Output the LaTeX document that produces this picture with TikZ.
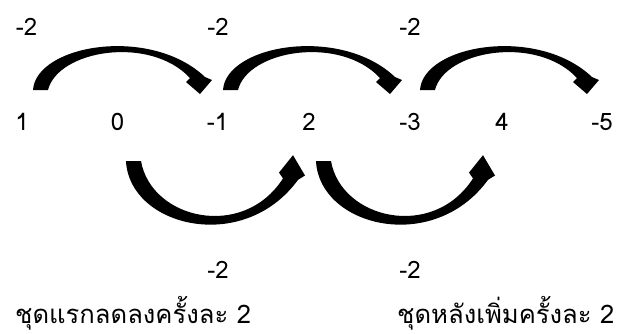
\documentclass[tikz,border=0pt]{standalone}
\usepackage{fontspec}
\newfontfamily\thaifont[Script=Thai]{Loma}
\newcommand\carrowpath{(0,0) .. controls (3,-45) and (117,-65) .. (172,-13)
     -- (179,-10) -- (167,4) -- (153,-8) -- (157,-12)
     .. controls (117,-55) and (25,-40) .. (15,0) -- cycle}
\begin{document}
\begin{tikzpicture}[x=1pt,y=-1pt,
  lbl/.style={font=\thaifont\fontsize{24}{24}\selectfont, inner sep=0pt},
  captext/.style={font=\thaifont\fontsize{25.6}{25.6}\selectfont, inner sep=0pt, anchor=base west},
  arrowfill/.style={fill=black}
]
\useasboundingbox (0,0) rectangle (622,333);
% number row
\node[lbl] (n1) at (22,122) {1};
\node[lbl] (n2) at (117.5,122) {0};
\node[lbl] (n3) at (217.5,122) {-1};
\node[lbl] (n4) at (309,122) {2};
\node[lbl] (n5) at (410,122) {-3};
\node[lbl] (n6) at (502,122) {4};
\node[lbl] (n7) at (602,122) {-5};
% step labels
\node[lbl] (t1) at (26.5,27) {-2};
\node[lbl] (t2) at (218,27) {-2};
\node[lbl] (t3) at (410,27) {-2};
\node[lbl] (b1) at (218,269.5) {-2};
\node[lbl] (b2) at (410,269.5) {-2};
% captions
\node[captext] (c1) at (15,323) {ชุดแรกลดลงครั้งละ 2};
\node[captext] (c2) at (397,323) {ชุดหลังเพิ่มครั้งละ 2};
% curved arrows (top)
\coordinate (a1) at (33,90);
\coordinate (a2) at (223,90);
\coordinate (a3) at (420,90);
\begin{scope}[shift={(a1)}] \path[arrowfill] \carrowpath; \end{scope}
\begin{scope}[shift={(a2)}] \path[arrowfill] \carrowpath; \end{scope}
\begin{scope}[shift={(a3)}] \path[arrowfill] \carrowpath; \end{scope}
% curved arrows (bottom)
\coordinate (d1) at (126,161);
\coordinate (d2) at (316,161);
\begin{scope}[shift={(d1)}, yscale=-1.45] \path[arrowfill] \carrowpath; \end{scope}
\begin{scope}[shift={(d2)}, yscale=-1.45] \path[arrowfill] \carrowpath; \end{scope}
\end{tikzpicture}
\end{document}
